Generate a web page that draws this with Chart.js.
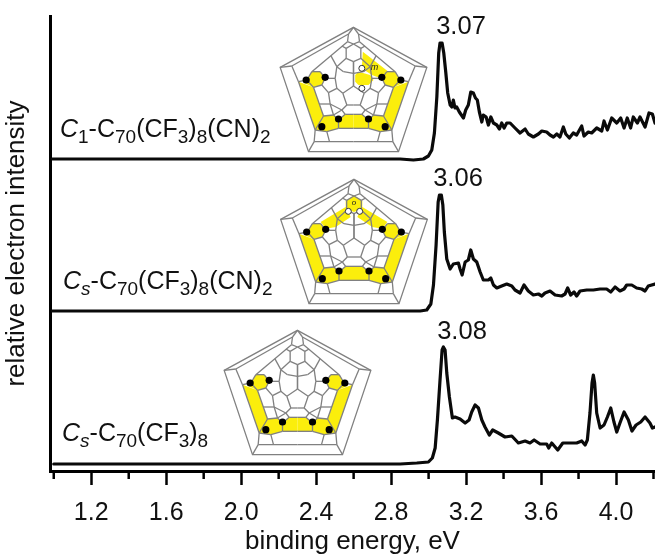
<!DOCTYPE html>
<html>
<head>
<meta charset="utf-8">
<script src="https://cdn.jsdelivr.net/npm/chart.js@4"></script>
<style>
body { margin: 0; background: #fff; }
canvas { display: block; }
</style>
</head>
<body>
<canvas id="chart" width="655" height="554"></canvas>
<script>
// spectra: energy in eV, intensity above each curve's own baseline
const energyTop = [0.992,1.6,2.2,2.6,2.848,2.919,2.972,2.999,3.017,3.031,3.044,3.054,3.061,3.072,3.081,3.092,3.102,3.115,3.124,3.132,3.141,3.150,3.164,3.186,3.198,3.212,3.225,3.239,3.250,3.260,3.271,3.284,3.292,3.307,3.319,3.332,3.346,3.364,3.378,3.390,3.403,3.417,3.435,3.461,3.488,3.515,3.532,3.559,3.586,3.604,3.630,3.648,3.666,3.684,3.701,3.719,3.732,3.751,3.772,3.790,3.817,3.829,3.852,3.870,3.897,3.924,3.936,3.954,3.977,4.004,4.025,4.043,4.060,4.078,4.092,4.114,4.128,4.155,4.176,4.194,4.208];
const intensityTop = [0,0,0,0,0,-1,0,3,9,26,62,106,116,116,106,86,66,54,52,59,51,52,47,41,49,54,67,66,61,59,47,37,44,42,34,42,36,34,30,36,31,36,36,31,26,30,25,22,25,28,27,24,22,25,22,32,25,21,26,24,33,23,27,26,31,28,38,29,41,36,41,31,41,31,42,36,42,32,46,45,36];

const energyMid = [0.992,1.6,2.2,2.6,2.848,2.955,2.990,3.012,3.026,3.040,3.051,3.058,3.068,3.076,3.084,3.097,3.115,3.132,3.159,3.168,3.179,3.195,3.212,3.225,3.239,3.257,3.275,3.292,3.319,3.332,3.346,3.364,3.390,3.417,3.444,3.461,3.488,3.509,3.532,3.559,3.586,3.604,3.621,3.648,3.675,3.710,3.728,3.742,3.758,3.776,3.790,3.808,3.844,3.879,3.915,3.950,3.972,3.995,4.021,4.043,4.057,4.084,4.110,4.137,4.155,4.172,4.208];
const intensityMid = [0,0,0,0,0,0,1,7,26,66,109,116,116,106,79,52,42,47,48,42,36,49,51,61,52,49,39,31,31,33,26,23,25,27,25,21,18,26,20,16,17,15,18,20,16,15,17,23,16,19,15,20,21,21,22,22,19,24,20,22,26,26,23,22,20,25,27];

const energyLow = [1.0,1.6,2.2,2.6,2.848,2.937,2.999,3.020,3.035,3.047,3.061,3.072,3.079,3.088,3.097,3.111,3.127,3.141,3.168,3.195,3.216,3.230,3.248,3.266,3.284,3.301,3.324,3.342,3.372,3.408,3.444,3.479,3.515,3.541,3.563,3.595,3.630,3.641,3.657,3.689,3.716,3.755,3.790,3.817,3.835,3.847,3.861,3.872,3.879,3.886,3.897,3.915,3.936,3.954,3.972,3.989,4.004,4.021,4.043,4.066,4.085,4.107,4.132,4.155,4.181,4.194,4.208];
const intensityLow = [0,0,0,0,0,1,2,6,16,44,84,114,117,114,91,67,46,47,45,41,44,52,59,56,44,37,29,34,31,27,28,21,23,21,24,20,20,16,21,14,21,21,21,23,19,24,51,81,89,81,51,36,39,47,56,42,32,41,52,44,33,39,42,47,41,36,37];

const baselines = [312, 160, 7];
const xMajorTicks = [1.2, 1.6, 2.0, 2.4, 2.8, 3.2, 3.6, 4.0];
const xMinorTicks = [1.0, 1.4, 1.8, 2.2, 2.6, 3.0, 3.4, 3.8, 4.2];
const peakLabels = ['3.07', '3.06', '3.08'];

function toPoints(energy, intensity, baseline) {
    return energy.map((e, i) => ({x: e, y: intensity[i] + baseline}));
}

const FONT = '"Liberation Sans", Arial, sans-serif';
const GREY = '#808080';
const YELLOW = '#fbee0c';

// left half of the Schlegel diagram, mirrored when drawn
const meshEdges = [
    [[-15,12],[-185,108]], [[-220,112],[-185,108]], [[-185,108],[-165,155]], [[-165,155],[-115,300]],
    [[-115,300],[-118,335]], [[-118,335],[-135,365]], [[-118,335],[0,335]], [[-80,305],[-72,335]],
    [[-80,305],[-45,295]], [[-45,295],[0,295]], [[-115,300],[-80,305]],
    [[0,-8],[-15,12]], [[-15,12],[-18,35]], [[-18,35],[0,42]], [[-18,35],[-125,125]],
    [[-125,125],[-100,125]], [[-125,125],[-140,150]], [[-140,150],[-165,155]], [[-100,125],[-85,145]],
    [[-85,145],[-95,165]], [[-95,165],[-120,172]], [[-120,172],[-140,150]], [[-120,172],[-90,258]],
    [[-90,258],[-115,300]], [[-90,258],[-60,255]], [[-60,255],[-45,270]], [[-45,270],[-45,295]],
    [[0,42],[-22,55]], [[-22,55],[-22,85]], [[-22,85],[0,95]], [[0,95],[0,130]], [[-22,85],[-50,110]],
    [[-22,55],[-35,48]], [[-50,110],[-68,77]], [[-50,110],[-55,145]], [[-55,145],[-85,145]],
    [[0,130],[-30,125]], [[-30,125],[-50,110]], [[-55,145],[-50,175]], [[-50,175],[-32,190]],
    [[0,168],[0,130]], [[0,168],[-32,190]], [[-32,190],[-20,225]], [[-20,225],[0,225]],
    [[-95,165],[-75,188]], [[-75,188],[-50,175]], [[-75,188],[-70,222]], [[-70,222],[-35,240]],
    [[-20,225],[-35,240]], [[-35,240],[-25,253]], [[-25,253],[0,253]], [[-70,222],[-60,255]],
    [[-35,240],[-60,255]], [[-25,253],[-45,270]], [[-70,222],[-103,222]]
];
const yellowCommon = [
    [[-165,155],[-120,172],[-90,258],[-115,300]],
    [[-150,158],[-140,150],[-125,125],[-100,125],[-85,145],[-95,165],[-120,172]],
    [[-90,258],[-60,255],[-45,270],[-45,295],[-80,305],[-115,300]],
    [[-45,270],[-25,253],[0,253],[0,295],[-45,295]]
];
const dotsCommon = [[-142,150],[-85,142],[-95,290],[-45,267]];

function pathPoly(ctx, pts, map) {
    ctx.beginPath();
    pts.forEach((p, i) => {
        const q = map(p);
        if (i === 0) ctx.moveTo(q[0], q[1]); else ctx.lineTo(q[0], q[1]);
    });
    ctx.closePath();
}

function drawDiagram(ctx, d) {
    const map = p => [d.cx + p[0] / 3, d.top + p[1] / 3];
    const mirror = p => [d.cx - p[0] / 3, d.top + p[1] / 3];

    ctx.fillStyle = '#fff';
    pathPoly(ctx, [[0,-8],[220,112],[135,365],[-135,365],[-220,112]], map);
    ctx.fill();

    ctx.fillStyle = YELLOW;
    yellowCommon.forEach(poly => {
        pathPoly(ctx, poly, map); ctx.fill();
        pathPoly(ctx, poly, mirror); ctx.fill();
    });
    (d.yellow || []).forEach(poly => {
        pathPoly(ctx, poly, map); ctx.fill();
        if (d.mirrorYellow) { pathPoly(ctx, poly, mirror); ctx.fill(); }
    });

    ctx.strokeStyle = GREY;
    ctx.lineWidth = 1.3;
    pathPoly(ctx, [[0,-8],[220,112],[135,365],[-135,365],[-220,112]], map);
    ctx.stroke();
    meshEdges.forEach(e => {
        [map, mirror].forEach(m => {
            const a = m(e[0]), b = m(e[1]);
            ctx.beginPath();
            ctx.moveTo(a[0], a[1]);
            ctx.lineTo(b[0], b[1]);
            ctx.stroke();
        });
    });

    ctx.fillStyle = '#000';
    dotsCommon.forEach(p => {
        [map, mirror].forEach(m => {
            const q = m(p);
            ctx.beginPath();
            ctx.arc(q[0], q[1], 3.6, 0, Math.PI * 2);
            ctx.fill();
        });
    });
    (d.open || []).forEach(p => {
        const q = map(p);
        ctx.beginPath();
        ctx.arc(q[0], q[1], 3, 0, Math.PI * 2);
        ctx.fillStyle = '#fff';
        ctx.fill();
        ctx.strokeStyle = '#333';
        ctx.lineWidth = 1;
        ctx.stroke();
    });
    if (d.tag) {
        const q = map(d.tag.at);
        ctx.fillStyle = '#222';
        ctx.font = 'italic ' + d.tag.size + 'px ' + FONT;
        ctx.textAlign = 'center';
        ctx.textBaseline = 'middle';
        ctx.fillText(d.tag.text, q[0], q[1]);
    }
}

const diagrams = [
    {
        cx: 353.5, top: 30,
        yellow: [
            [[28,65],[105,125],[90,148],[55,135],[25,115]],
            [[5,135],[15,125],[50,135],[60,150],[45,165],[15,165],[5,155]]
        ],
        open: [[25,115],[25,175]],
        tag: {text: 'm', at: [63,112], size: 9}
    },
    {
        cx: 354, top: 182,
        mirrorYellow: true,
        yellow: [
            [[-25,57],[0,40],[0,90],[-25,80]],
            [[-25,75],[-100,120],[-85,140],[-55,135],[-10,105]]
        ],
        open: [[-17,88],[17,88]],
        tag: {text: 'o', at: [0,62], size: 8}
    },
    {cx: 297.5, top: 333}
];

const annotations = {
    id: 'annotations',
    afterDatasetsDraw(chart) {
        const ctx = chart.ctx;
        const x = chart.scales.x;
        const area = chart.chartArea;

        // minor ticks, shorter than the major ones the axis draws
        ctx.save();
        ctx.strokeStyle = '#000';
        ctx.lineWidth = 2.5;
        xMinorTicks.forEach(v => {
            const px = x.getPixelForValue(v);
            if (px > area.right) return;
            ctx.beginPath();
            ctx.moveTo(px, area.bottom);
            ctx.lineTo(px, area.bottom + 8);
            ctx.stroke();
        });
        ctx.restore();

        ctx.save();
        diagrams.forEach(d => drawDiagram(ctx, d));
        ctx.restore();

        // peak values
        ctx.save();
        ctx.fillStyle = '#111';
        ctx.font = '25.5px ' + FONT;
        ctx.textAlign = 'center';
        ctx.textBaseline = 'alphabetic';
        ctx.fillText(peakLabels[0], 461, 34);
        ctx.fillText(peakLabels[1], 458, 186);
        ctx.fillText(peakLabels[2], 462, 339);
        ctx.restore();

        // compound names with italic symmetry letter and subscripts
        drawRuns(ctx, 60, 137, [['C','i'],['1','s'],['-C',''],['70','s'],['(CF',''],['3','s'],[')',''],['8','s'],['(CN)',''],['2','s']]);
        drawRuns(ctx, 63, 289, [['C','i'],['s','is'],['-C',''],['70','s'],['(CF',''],['3','s'],[')',''],['8','s'],['(CN)',''],['2','s']]);
        drawRuns(ctx, 62, 441, [['C','i'],['s','is'],['-C',''],['70','s'],['(CF',''],['3','s'],[')',''],['8','s']]);
    }
};

function drawRuns(ctx, x, y, runs) {
    ctx.save();
    ctx.fillStyle = '#111';
    ctx.textAlign = 'left';
    ctx.textBaseline = 'alphabetic';
    runs.forEach(r => {
        const italic = r[1].includes('i');
        const sub = r[1].includes('s');
        ctx.font = (italic ? 'italic ' : '') + (sub ? 19 : 25) + 'px ' + FONT;
        ctx.fillText(r[0], x, sub ? y + 6 : y);
        x += ctx.measureText(r[0]).width;
    });
    ctx.restore();
}

new Chart(document.getElementById('chart'), {
    type: 'line',
    data: {
        datasets: [
            {data: toPoints(energyTop, intensityTop, baselines[0])},
            {data: toPoints(energyMid, intensityMid, baselines[1])},
            {data: toPoints(energyLow, intensityLow, baselines[2])}
        ]
    },
    options: {
        responsive: false,
        animation: false,
        layout: {padding: {top: 16, left: 0, right: 0, bottom: 0}},
        elements: {
            point: {radius: 0},
            line: {borderColor: '#0a0a0a', borderWidth: 3.2, tension: 0, borderJoinStyle: 'round', borderCapStyle: 'round'}
        },
        plugins: {legend: {display: false}, tooltip: {enabled: false}},
        scales: {
            x: {
                type: 'linear',
                min: 0.98,
                max: 4.208,
                afterBuildTicks(scale) {
                    scale.ticks = xMajorTicks.map(v => ({value: v}));
                },
                afterFit(scale) { scale.height = 83; },
                border: {display: true, color: '#000', width: 3},
                grid: {drawOnChartArea: false, drawTicks: true, tickLength: 14, tickWidth: 2.5, tickColor: '#000'},
                ticks: {
                    autoSkip: false,
                    maxRotation: 0,
                    padding: 13,
                    color: '#111',
                    font: {family: FONT, size: 25},
                    callback: v => v.toFixed(1)
                },
                title: {
                    display: true,
                    text: 'binding energy, eV',
                    color: '#111',
                    font: {family: FONT, size: 26},
                    padding: {top: 0, bottom: -3}
                }
            },
            y: {
                min: 0,
                max: 455,
                afterFit(scale) { scale.width = 50; },
                border: {display: true, color: '#000', width: 3},
                grid: {drawOnChartArea: false, drawTicks: false},
                ticks: {display: false},
                title: {
                    display: true,
                    text: 'relative electron intensity',
                    color: '#111',
                    font: {family: FONT, size: 26},
                    padding: {top: 1, bottom: 0}
                }
            }
        }
    },
    plugins: [annotations]
});
</script>
</body>
</html>
